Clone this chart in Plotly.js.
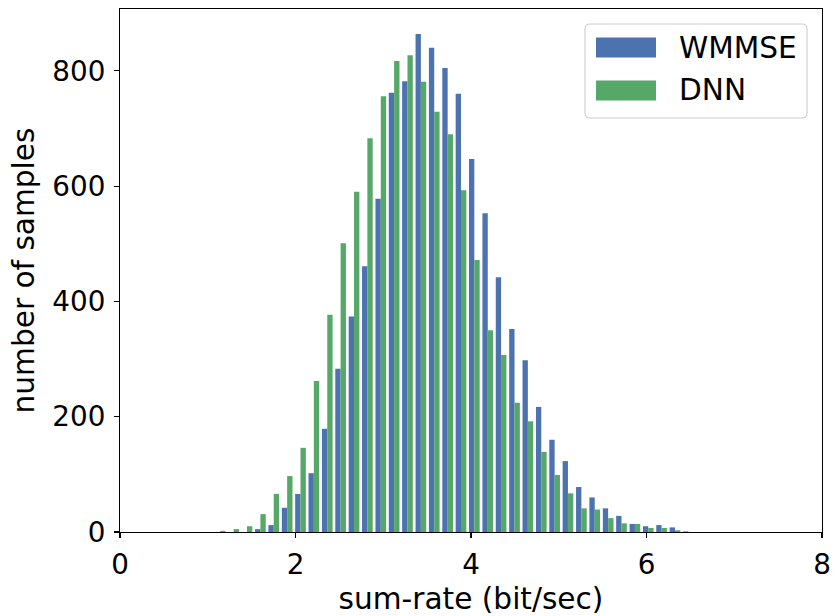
<!DOCTYPE html>
<html>
<head>
<meta charset="utf-8">
<script src="https://cdn.plot.ly/plotly-3.0.1.min.js"></script>
<style>html,body{margin:0;padding:0;background:#fff;}#chart{width:833px;height:616px;}</style>
</head>
<body>
<div id="chart"></div>
<script>
// Histogram bin centres (sum-rate, bit/sec)
const binCenters = [1.142, 1.295, 1.447, 1.600, 1.752, 1.905, 2.057, 2.209, 2.362, 2.514,
  2.667, 2.819, 2.972, 3.124, 3.276, 3.429, 3.581, 3.734, 3.886, 4.038,
  4.191, 4.343, 4.496, 4.648, 4.801, 4.953, 5.105, 5.258, 5.410, 5.563,
  5.715, 5.868, 6.020, 6.172, 6.325, 6.477];
// Counts per bin
const wmmseCounts = [0, 0, 0, 5, 12, 42, 66, 102, 179, 283,
  374, 461, 578, 762, 782, 864, 840, 805, 760, 647,
  553, 442, 352, 298, 217, 160, 123, 78, 60, 41,
  28, 14, 10, 12, 8, 1];
const dnnCounts = [2, 5, 10, 31, 66, 97, 146, 262, 377, 501,
  590, 683, 756, 817, 827, 781, 729, 690, 593, 472,
  350, 307, 224, 192, 139, 99, 67, 41, 39, 24,
  15, 14, 7, 7, 3, 0];
const seriesNames = ["WMMSE", "DNN"];
const xTicks = [0, 2, 4, 6, 8];
const yTicks = [0, 200, 400, 600, 800];

const colors = ["#4c72b0", "#55a868"];
const FONT = "DejaVu Sans, Liberation Sans, sans-serif";
const FS = 27.8;   // tick labels
const FT = 29.6;   // titles and legend

const traces = [
  {type: "bar", x: binCenters, y: wmmseCounts, name: seriesNames[0],
   marker: {color: colors[0], line: {width: 0}}},
  {type: "bar", x: binCenters, y: dnnCounts, name: seriesNames[1],
   marker: {color: colors[1], line: {width: 0}}}
];

// plot area in pixels
const L = 120, R = 822, T = 9, B = 532;
const W = R - L, H = B - T;
const px = v => (v - L) / W;
const py = v => (B - v) / H;

function roundRect(x0, y0, x1, y1, r) {
  const rx = r / W, ry = r / H;
  const a = px(x0), b = px(x1), top = py(y0), bot = py(y1);
  return `M ${a + rx},${top} L ${b - rx},${top} Q ${b},${top} ${b},${top - ry} ` +
         `L ${b},${bot + ry} Q ${b},${bot} ${b - rx},${bot} L ${a + rx},${bot} ` +
         `Q ${a},${bot} ${a},${bot + ry} L ${a},${top - ry} Q ${a},${top} ${a + rx},${top} Z`;
}

const shapes = [
  {type: "path", xref: "paper", yref: "paper", path: roundRect(585, 24, 807, 118, 5),
   fillcolor: "rgba(255,255,255,0.8)", line: {color: "#cccccc", width: 1.1}},
  {type: "rect", xref: "paper", yref: "paper", x0: px(596), x1: px(656), y0: py(57.5), y1: py(37.5),
   fillcolor: colors[0], line: {width: 0}},
  {type: "rect", xref: "paper", yref: "paper", x0: px(596), x1: px(656), y0: py(100.5), y1: py(80.5),
   fillcolor: colors[1], line: {width: 0}}
];
const annotations = [
  {xref: "paper", yref: "paper", x: px(677), y: py(47.5), xanchor: "left", yanchor: "middle",
   text: seriesNames[0], showarrow: false, font: {family: FONT, size: FT, color: "#000"}},
  {xref: "paper", yref: "paper", x: px(677), y: py(90.5), xanchor: "left", yanchor: "middle",
   text: seriesNames[1], showarrow: false, font: {family: FONT, size: FT, color: "#000"}}
];

const layout = {
  width: 833, height: 616,
  margin: {l: L, r: 833 - R, t: T, b: 616 - B, pad: 0},
  paper_bgcolor: "#fff", plot_bgcolor: "#fff",
  barmode: "group", bargap: 0.2, bargroupgap: 0,
  showlegend: false,
  font: {family: FONT, size: FS, color: "#000"},
  xaxis: {
    range: [0, 8], tickvals: xTicks, ticktext: xTicks.map(String),
    showgrid: false, zeroline: false,
    showline: true, mirror: true, linecolor: "#000", linewidth: 1.1,
    ticks: "outside", ticklen: 5, tickwidth: 1.1, tickcolor: "#000",
    ticklabelstandoff: 3,
    tickfont: {family: FONT, size: FS, color: "#000"},
    title: {text: "sum-rate (bit/sec)", font: {family: FONT, size: FT, color: "#000"}, standoff: 7},
    automargin: false
  },
  yaxis: {
    range: [0, 907.2], tickvals: yTicks, ticktext: yTicks.map(String),
    showgrid: false, zeroline: false,
    showline: true, mirror: true, linecolor: "#000", linewidth: 1.1,
    ticks: "outside", ticklen: 5, tickwidth: 1.1, tickcolor: "#000",
    ticklabelstandoff: 3,
    tickfont: {family: FONT, size: FS, color: "#000"},
    title: {text: "number of samples", font: {family: FONT, size: FT, color: "#000"}, standoff: 8},
    automargin: false
  },
  shapes: shapes,
  annotations: annotations
};

Plotly.newPlot("chart", traces, layout, {displayModeBar: false, staticPlot: true});
</script>
</body>
</html>
